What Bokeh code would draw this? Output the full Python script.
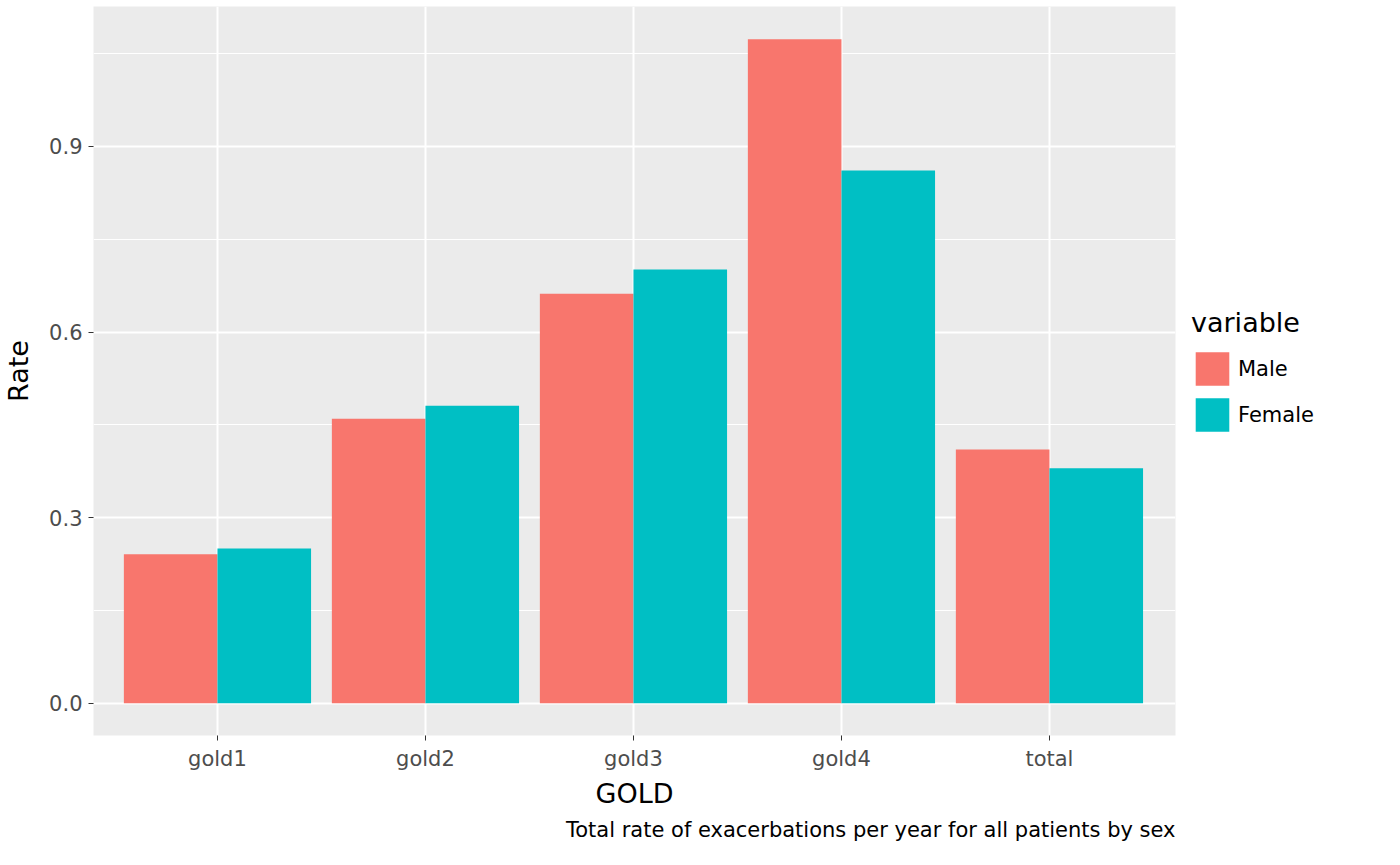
from bokeh.plotting import figure
from bokeh.models import FixedTicker, Legend, LegendItem, Range1d, ColumnDataSource, Title
from bokeh.embed import file_html
from bokeh.resources import INLINE

categories = ["gold1", "gold2", "gold3", "gold4", "total"]
male = [0.241, 0.460, 0.662, 1.073, 0.410]
female = [0.250, 0.481, 0.701, 0.861, 0.380]
yticks = [0.0, 0.3, 0.6, 0.9]

xs = list(range(1, len(categories) + 1))
p = figure(frame_width=1082, frame_height=729, output_backend="svg", toolbar_location=None,
           x_range=Range1d(0.404, 5.606), y_range=Range1d(-0.052, 1.126),
           min_border_left=10, min_border_right=10, min_border_top=6, min_border_bottom=8)
p.background_fill_color = "#EBEBEB"
p.border_fill_color = "white"
p.outline_line_color = None

sm = ColumnDataSource(dict(x=[x - 0.225 for x in xs], top=male))
sf = ColumnDataSource(dict(x=[x + 0.225 for x in xs], top=female))
rm = p.vbar(x="x", top="top", width=0.45, bottom=0, source=sm, fill_color="#F8766D", line_color=None)
rf = p.vbar(x="x", top="top", width=0.45, bottom=0, source=sf, fill_color="#00BFC4", line_color=None)

p.xaxis.ticker = FixedTicker(ticks=xs)
p.xaxis.major_label_overrides = {x: c for x, c in zip(xs, categories)}
p.yaxis.ticker = FixedTicker(ticks=yticks, minor_ticks=[0.15, 0.45, 0.75, 1.05])
p.yaxis.major_label_overrides = {t: f"{t:.1f}" for t in yticks}
for ax in (p.xaxis, p.yaxis):
    ax.axis_line_color = None
    ax.major_tick_line_color = "#333333"
    ax.major_tick_in = 0
    ax.major_tick_out = 5
    ax.minor_tick_line_color = None
    ax.major_label_text_font_size = "21px"
    ax.major_label_text_color = "#4D4D4D"
    ax.major_label_text_font = "DejaVu Sans"
    ax.axis_label_text_font = "DejaVu Sans"
    ax.axis_label_text_font_size = "27px"
    ax.axis_label_text_font_style = "normal"
    ax.axis_label_text_color = "black"
p.xaxis.axis_label = "GOLD"
p.yaxis.axis_label = "Rate"
p.xaxis.axis_label_standoff = 4
p.yaxis.axis_label_standoff = 12
p.xaxis.major_label_standoff = 6
p.yaxis.major_label_standoff = 6

p.xgrid.grid_line_color = "white"
p.xgrid.grid_line_width = 2
p.ygrid.grid_line_color = "white"
p.ygrid.grid_line_width = 2
p.ygrid.minor_grid_line_color = "white"
p.ygrid.minor_grid_line_width = 1

legend = Legend(items=[LegendItem(label="Male", renderers=[rm]),
                       LegendItem(label="Female", renderers=[rf])],
                title="variable", title_text_font_size="27px", title_text_font="DejaVu Sans",
                title_text_font_style="normal", title_text_color="black",
                label_text_font_size="21px", label_text_font="DejaVu Sans", label_text_color="black",
                glyph_width=42, glyph_height=42, label_height=42, spacing=4,
                border_line_color=None, background_fill_alpha=0,
                location="left", margin=16, padding=0, title_standoff=10)
p.add_layout(legend, "right")

cap = Title(text="Total rate of exacerbations per year for all patients by sex", align="right",
            text_font="DejaVu Sans", text_font_size="21px", text_font_style="normal",
            text_color="black", standoff=8)
p.add_layout(cap, "below")

open("out.html", "w").write(file_html(p, INLINE))
